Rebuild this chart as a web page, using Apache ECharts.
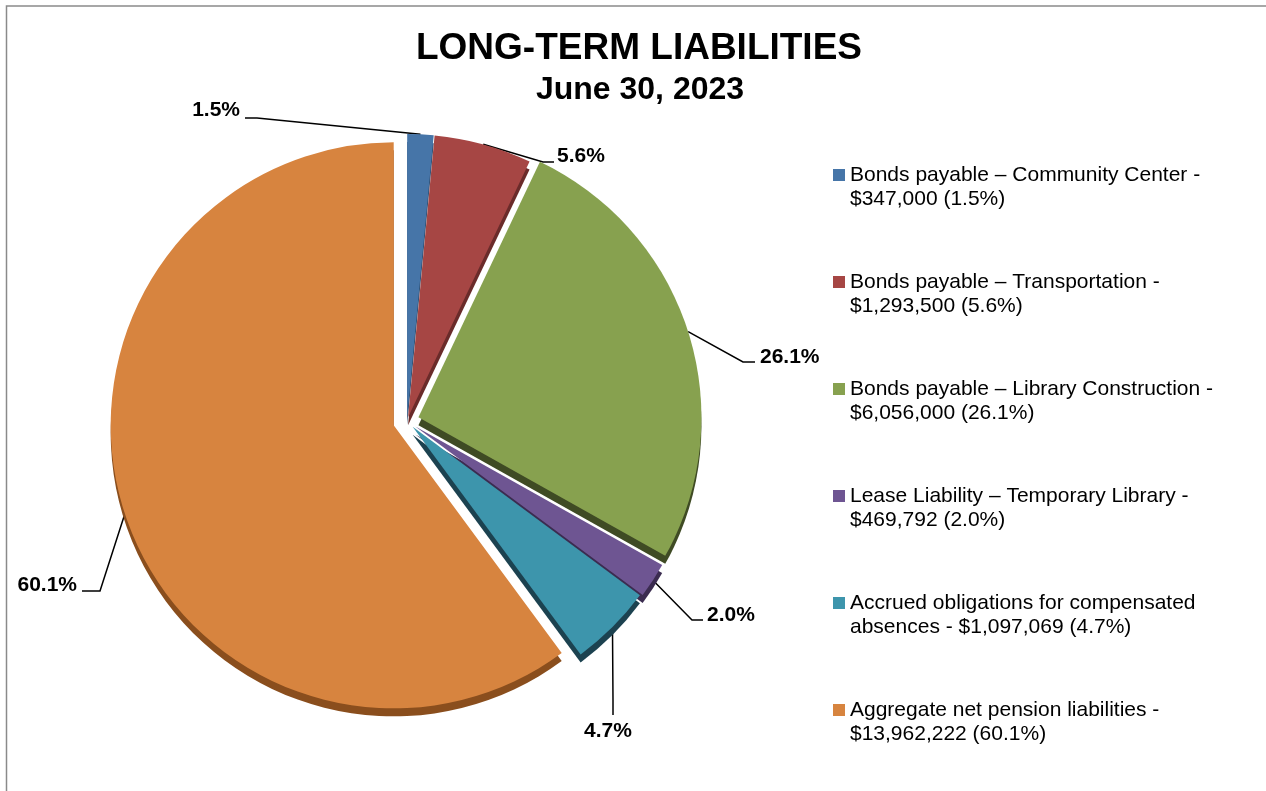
<!DOCTYPE html>
<html>
<head>
<meta charset="utf-8">
<script src="https://cdn.jsdelivr.net/npm/echarts@6/dist/echarts.min.js"></script>
<style>
  html, body { margin: 0; padding: 0; background: #ffffff; }
  #chart { width: 1266px; height: 791px; }
</style>
</head>
<body>
<div id="chart"></div>
<script>
// Long-term liabilities, June 30, 2023
const categories = [
  'Bonds payable – Community Center',
  'Bonds payable – Transportation',
  'Bonds payable – Library Construction',
  'Lease Liability – Temporary Library',
  'Accrued obligations for compensated absences',
  'Aggregate net pension liabilities'
];
const amounts = [347000, 1293500, 6056000, 469792, 1097069, 13962222];

const titleText = 'LONG-TERM LIABILITIES';
const subtitleText = 'June 30, 2023';

// Styling
const FONT = '"Liberation Sans", Arial, Helvetica, sans-serif';
const LEGEND_FONT_SIZE = 21;
const LEGEND_WRAP = 380;
const colors = ['#4675a8', '#a64644', '#87a14f', '#6e5592', '#3d95ac', '#d7843f'];
const sideColors = ['#2b4a6c', '#6a2b2a', '#3f4b24', '#3b2c50', '#1c4250', '#8a4e1d'];

// Pie geometry
const CENTER = [407, 421];
const RADIUS = 283;
const explode = [4, 4, 12, 10, 8, 14];      // pull-out distance of each slice
const drawOrder = [5, 0, 1, 2, 3, 4];       // back to front

// Where each percentage label sits, and the bend of its leader line
const labelSpots = [
  { x: 240, y: 110, align: 'right',  elbow: [257, 118], end: [245, 118] },
  { x: 557, y: 156, align: 'left',   elbow: [543, 162], end: [554, 162] },
  { x: 760, y: 357, align: 'left',   elbow: [743, 362], end: [755, 362] },
  { x: 707, y: 615, align: 'left',   elbow: [692, 620], end: [703, 620] },
  { x: 608, y: 731, align: 'center', elbow: [613, 700], end: [613, 715] },
  { x: 77,  y: 585, align: 'right',  elbow: [100, 591], end: [82, 591] }
];

const total = amounts.reduce((a, b) => a + b, 0);
const pct = v => (v / total * 100).toFixed(1);
const money = v => '$' + String(v).replace(/\B(?=(\d{3})+(?!\d))/g, ',');

// word wrap at spaces only, so amounts never split
const measureCtx = document.createElement('canvas').getContext('2d');
measureCtx.font = LEGEND_FONT_SIZE + 'px ' + FONT;
function wrapWords(text, maxWidth) {
  const words = text.split(' ');
  const lines = [];
  let line = '';
  words.forEach(w => {
    const test = line ? line + ' ' + w : w;
    if (line && measureCtx.measureText(test).width > maxWidth) {
      lines.push(line);
      line = w;
    } else {
      line = test;
    }
  });
  if (line) lines.push(line);
  return lines;
}

// mid-angle of each slice, clockwise from 12 o'clock (radians)
const midAngles = [];
{
  let acc = 0;
  amounts.forEach(v => {
    const a0 = acc / total * Math.PI * 2;
    acc += v;
    const a1 = acc / total * Math.PI * 2;
    midAngles.push((a0 + a1) / 2);
  });
}
const sliceCenter = k => [
  CENTER[0] + explode[k] * Math.sin(midAngles[k]),
  CENTER[1] - explode[k] * Math.cos(midAngles[k])
];
const rimPoint = k => {
  const c = sliceCenter(k);
  return [c[0] + RADIUS * Math.sin(midAngles[k]), c[1] - RADIUS * Math.cos(midAngles[k])];
};

// One pie per slice so every slice can be pulled out by its own distance
const series = drawOrder.map(k => ({
  type: 'pie',
  name: categories[k],
  center: sliceCenter(k),
  radius: RADIUS,
  startAngle: 90,
  clockwise: true,
  padAngle: 0,
  minAngle: 0,
  avoidLabelOverlap: false,
  percentPrecision: 1,
  emphasis: { disabled: true },
  tooltip: { show: false },
  itemStyle: { borderWidth: 0 },
  label: {
    fontFamily: FONT,
    fontSize: 21,
    fontWeight: 'bold',
    color: '#000000',
    formatter: p => p.percent.toFixed(1) + '%'
  },
  labelLine: { lineStyle: { color: '#000000', width: 1.5 } },
  labelLayout: p => {
    if (p.dataIndex !== k) return {};
    const s = labelSpots[k];
    return {
      x: s.x, y: s.y, align: s.align, verticalAlign: 'middle',
      labelLinePoints: [rimPoint(k), s.elbow, s.end]
    };
  },
  data: amounts.map((v, i) => ({
    name: categories[i],
    value: v,
    itemStyle: i === k
      ? { color: colors[i], shadowColor: sideColors[i], shadowOffsetY: 8, shadowBlur: 0 }
      : { color: 'rgba(0,0,0,0)' },
    label: { show: i === k },
    labelLine: { show: i === k }
  }))
}));

const chart = echarts.init(document.getElementById('chart'), null, { renderer: 'canvas' });
chart.setOption({
  backgroundColor: '#ffffff',
  animation: false,
  title: [
    {
      text: titleText, left: 634, top: 25, textAlign: 'center',
      textStyle: { fontFamily: FONT, fontSize: 37, fontWeight: 'bold', color: '#000000' }
    },
    {
      text: subtitleText, left: 635, top: 69, textAlign: 'center',
      textStyle: { fontFamily: FONT, fontSize: 32, fontWeight: 'bold', color: '#000000' }
    }
  ],
  legend: {
    orient: 'vertical',
    left: 833,
    top: 139,
    padding: 0,
    itemGap: 35,
    itemWidth: 12,
    itemHeight: 12,
    icon: 'rect',
    selectedMode: false,
    data: categories.map((c, i) => ({
      name: c,
      itemStyle: { color: colors[i], borderWidth: 0, shadowBlur: 0, shadowOffsetY: 0, shadowColor: 'rgba(0,0,0,0)' }
    })),
    // an empty leading line keeps the swatch level with the first text line
    formatter: name => {
      const i = categories.indexOf(name);
      const full = name + ' - ' + money(amounts[i]) + ' (' + pct(amounts[i]) + '%)';
      return '\n' + wrapWords(full, LEGEND_WRAP).join('\n');
    },
    textStyle: {
      fontFamily: FONT, fontSize: LEGEND_FONT_SIZE, color: '#000000',
      lineHeight: 24
    }
  },
  graphic: [{
    type: 'rect',
    silent: true,
    shape: { x: 6.5, y: 6, width: 1400, height: 1000 },
    style: { fill: 'none', stroke: '#8a8a8a', lineWidth: 1.5 }
  }],
  series: series
});
</script>
</body>
</html>
